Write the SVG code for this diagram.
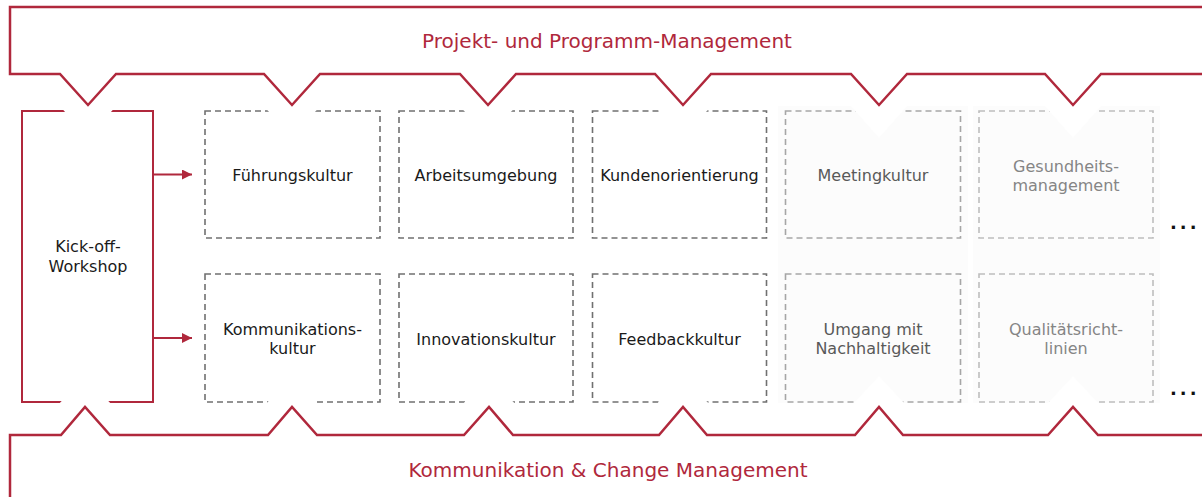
<svg xmlns="http://www.w3.org/2000/svg" width="1202" height="497" viewBox="0 0 1202 497">
  <defs>
    <style>
      .banner { fill: none; stroke: #b0283c; stroke-width: 2.5; stroke-linejoin: miter; }
      .btitle { font-family: "DejaVu Sans", Verdana, sans-serif; font-size: 20px; fill: #b0283c; text-anchor: middle; }
      .lbl { font-family: "DejaVu Sans", Verdana, sans-serif; font-size: 16px; text-anchor: middle; }
      .dark { fill: #1a1a1a; }
      .mid { fill: #595959; }
      .light { fill: #858585; }
      .box { fill: none; stroke-width: 1.6; stroke-dasharray: 6 4; }
      .boxd { stroke: #707070; }
      .boxm { stroke: #a6a6a6; }
      .boxl { stroke: #bdbdbd; }
      .kick { fill: none; stroke: #b0283c; stroke-width: 2; }
      .cut { fill: #ffffff; }
      .col { fill: #fcfcfc; }
      .arrow { stroke: #b0283c; stroke-width: 2; fill: none; }
      .dots { font-family: "DejaVu Sans", Verdana, sans-serif; font-size: 18px; font-weight: bold; fill: #111111; letter-spacing: 3px; }
    </style>
    <marker id="ah" viewBox="0 0 10 10" refX="10" refY="5" markerWidth="10" markerHeight="10" markerUnits="userSpaceOnUse" orient="auto">
      <path d="M0,0 L10,5 L0,10 Z" fill="#b0283c"/>
    </marker>
  </defs>

  <!-- faint column backgrounds -->
  <rect class="col" x="778" y="106" width="190" height="297"/>
  <rect class="col" x="973" y="106" width="187" height="297"/>

  <g id="kickoff">
    <rect class="kick" x="22" y="111" width="131" height="291"/>
  </g>

  <g id="fuehrungskultur">
    <rect class="box boxd" x="205" y="111" width="175" height="127"/>
    <text class="lbl dark" x="292.5" y="181">Führungskultur</text>
  </g>
  <g id="arbeitsumgebung">
    <rect class="box boxd" x="399" y="111" width="174" height="127"/>
    <text class="lbl dark" x="486" y="181">Arbeitsumgebung</text>
  </g>
  <g id="kundenorientierung">
    <rect class="box boxd" x="592.5" y="111" width="174" height="127"/>
    <text class="lbl dark" x="679.5" y="181">Kundenorientierung</text>
  </g>
  <g id="meetingkultur">
    <rect class="box boxm" x="785.5" y="111" width="175" height="127"/>
    <text class="lbl mid" x="873" y="181">Meetingkultur</text>
  </g>
  <g id="gesundheitsmanagement">
    <rect class="box boxl" x="979" y="111" width="174" height="127"/>
    <text class="lbl light" x="1066" y="171.5">Gesundheits-</text>
    <text class="lbl light" x="1066" y="190.5">management</text>
  </g>

  <g id="kommunikationskultur">
    <rect class="box boxd" x="205" y="274" width="175" height="128"/>
    <text class="lbl dark" x="292.5" y="335">Kommunikations-</text>
    <text class="lbl dark" x="292.5" y="354">kultur</text>
  </g>
  <g id="innovationskultur">
    <rect class="box boxd" x="399" y="274" width="174" height="128"/>
    <text class="lbl dark" x="486" y="345">Innovationskultur</text>
  </g>
  <g id="feedbackkultur">
    <rect class="box boxd" x="592.5" y="274" width="174" height="128"/>
    <text class="lbl dark" x="679.5" y="345">Feedbackkultur</text>
  </g>
  <g id="nachhaltigkeit">
    <rect class="box boxm" x="785.5" y="274" width="175" height="128"/>
    <text class="lbl mid" x="873" y="335">Umgang mit</text>
    <text class="lbl mid" x="873" y="354">Nachhaltigkeit</text>
  </g>
  <g id="qualitaetsrichtlinien">
    <rect class="box boxl" x="979" y="274" width="174" height="128"/>
    <text class="lbl light" x="1066" y="335">Qualitätsricht-</text>
    <text class="lbl light" x="1066" y="354">linien</text>
  </g>

  <!-- white notch shadows interrupting borders -->
  <g id="cuts">
    <polygon class="cut" points="58,104 118,104 88,138"/>
    <polygon class="cut" points="262,104 322,104 292,138"/>
    <polygon class="cut" points="458,104 518,104 488,138"/>
    <polygon class="cut" points="653,104 713,104 683,138"/>
    <polygon class="cut" points="849,104 909,104 879,138"/>
    <polygon class="cut" points="1043,104 1103,104 1073,138"/>
    <polygon class="cut" points="57,406 113,406 85,376"/>
    <polygon class="cut" points="264,406 320,406 292,376"/>
    <polygon class="cut" points="461,406 517,406 489,376"/>
    <polygon class="cut" points="655,406 711,406 683,376"/>
    <polygon class="cut" points="851,406 907,406 879,376"/>
    <polygon class="cut" points="1045,406 1101,406 1073,376"/>
  </g>

  <g id="kickoff-label">
    <text class="lbl dark" x="88" y="252">Kick-off-</text>
    <text class="lbl dark" x="88" y="272">Workshop</text>
  </g>

  <g id="projekt-management">
    <path class="banner" d="M1204,7 H10 V74 H60 L88,105 L116,74 H264 L292,105 L320,74 H460 L488,105 L516,74 H655 L683,105 L711,74 H851 L879,105 L907,74 H1045 L1073,105 L1101,74 H1204"/>
    <text class="btitle" x="607" y="48">Projekt- und Programm-Management</text>
  </g>

  <g id="change-management">
    <path class="banner" d="M1204,435 H1098 L1073,407 L1048,435 H903 L879,407 L855,435 H707 L683,407 L659,435 H513 L489,407 L464,435 H317 L292,407 L268,435 H110 L85,407 L61,435 H10 V499"/>
    <text class="btitle" x="608" y="477">Kommunikation &amp; Change Management</text>
  </g>

  <g id="connectors">
    <line class="arrow" x1="153" y1="174.5" x2="192" y2="174.5" marker-end="url(#ah)"/>
    <line class="arrow" x1="153" y1="338" x2="192" y2="338" marker-end="url(#ah)"/>
  </g>

  <g id="more">
    <text class="dots" x="1170" y="229">...</text>
    <text class="dots" x="1170" y="395">...</text>
  </g>
</svg>
